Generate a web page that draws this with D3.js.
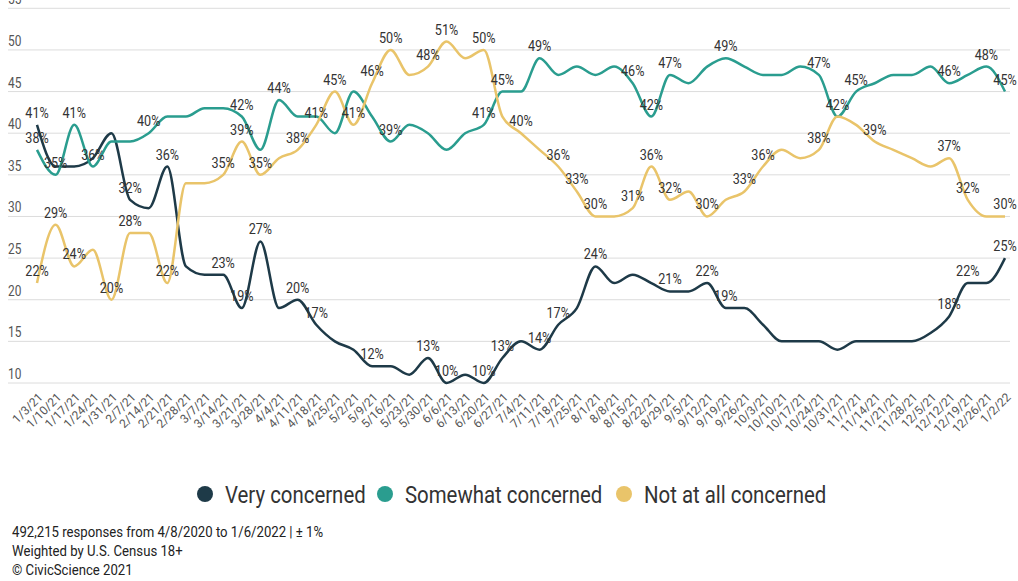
<!DOCTYPE html>
<html>
<head>
<meta charset="utf-8">
<script src="https://cdn.jsdelivr.net/npm/d3@7"></script>
<style>
  body { margin: 0; background: #fff; }
  svg { display: block; font-family: Roboto, "Noto Sans", sans-serif; }
</style>
</head>
<body>
<svg id="chart" width="1018" height="581"></svg>
<script>
var weeks = ["1/3/21","1/10/21","1/17/21","1/24/21","1/31/21","2/7/21","2/14/21","2/21/21","2/28/21",
  "3/7/21","3/14/21","3/21/21","3/28/21","4/4/21","4/11/21","4/18/21","4/25/21","5/2/21","5/9/21",
  "5/16/21","5/23/21","5/30/21","6/6/21","6/13/21","6/20/21","6/27/21","7/4/21","7/11/21","7/18/21",
  "7/25/21","8/1/21","8/8/21","8/15/21","8/22/21","8/29/21","9/5/21","9/12/21","9/19/21","9/26/21",
  "10/3/21","10/10/21","10/17/21","10/24/21","10/31/21","11/7/21","11/14/21","11/21/21","11/28/21",
  "12/5/21","12/12/21","12/19/21","12/26/21","1/2/22"];

var veryConcerned = [41,36,36,37,40,32,31,36,24,23,23,19,27,19,20,17,15,14,12,12,11,13,10,11,10,13,
  15,14,17,19,24,22,23,22,21,21,22,19,19,17,15,15,15,14,15,15,15,15,16,18,22,22,25];
var somewhatConcerned = [38,35,41,36,39,39,40,42,42,43,43,42,38,44,42,42,40,45,42,39,41,40,38,40,41,45,
  45,49,47,48,47,48,46,42,47,46,48,49,48,47,47,48,47,42,45,46,47,47,48,46,47,48,45];
var notConcerned = [22,29,24,26,20,28,28,22,34,34,35,39,35,37,38,41,45,41,46,50,47,48,51,49,50,42,
  40,38,36,33,30,30,31,36,32,33,30,32,33,36,38,37,38,42,41,39,38,37,36,37,32,30,30];

// which weeks carry a value label
var veryLabels = [0,5,7,10,11,12,14,15,18,21,22,24,25,27,28,30,34,36,37,49,50,52];
var somewhatLabels = [0,1,2,3,6,11,13,19,24,25,27,32,33,34,37,42,43,44,49,51,52];
var notLabels = [0,1,2,4,5,7,10,11,12,14,15,16,17,18,19,21,22,24,26,28,29,30,32,33,34,36,38,39,42,45,49,50,52];

var yTicks = [10,15,20,25,30,35,40,45,50,55];

var seriesNames = ["Very concerned","Somewhat concerned","Not at all concerned"];
var seriesColors = ["#1e3a48","#2a9d8f","#e9c46a"];

var svg = d3.select("#chart");

var x = d3.scalePoint().domain(weeks).range([37, 1005]);
var y = d3.scaleLinear().domain([10, 55]).range([383, 8.3]);

// gridlines + y labels
var grid = svg.append("g");
grid.selectAll("line").data(yTicks).join("line")
  .attr("x1", 8).attr("x2", 1010)
  .attr("y1", function(d) { return y(d); }).attr("y2", function(d) { return y(d); })
  .attr("stroke", "#dcdcdc").attr("stroke-width", 1);
grid.selectAll("text").data(yTicks).join("text")
  .attr("transform", function(d) { return "translate(8," + (y(d) - 4) + ") scale(0.85,1)"; })
  .attr("font-size", 14).attr("fill", "#555")
  .text(function(d) { return d; });

// x axis labels
var xAxis = svg.append("g").attr("transform", "translate(0,392)")
  .call(d3.axisBottom(x).tickSize(0).tickPadding(0));
xAxis.select(".domain").remove();
xAxis.selectAll("text")
  .attr("font-size", 12).attr("fill", "#555").attr("font-family", "Roboto, sans-serif")
  .attr("text-anchor", "end").attr("dy", "0.7em").attr("dx", "0")
  .attr("transform", "rotate(-45)");

var series = [
  { name: seriesNames[0], values: veryConcerned, labels: veryLabels, color: seriesColors[0] },
  { name: seriesNames[1], values: somewhatConcerned, labels: somewhatLabels, color: seriesColors[1] },
  { name: seriesNames[2], values: notConcerned, labels: notLabels, color: seriesColors[2] }
];

var line = d3.line()
  .x(function(d, i) { return x(weeks[i]); })
  .y(function(d) { return y(d); })
  .curve(d3.curveMonotoneX);

svg.append("g").selectAll("path").data(series).join("path")
  .attr("d", function(s) { return line(s.values); })
  .attr("fill", "none")
  .attr("stroke", function(s) { return s.color; })
  .attr("stroke-width", 2.5);

// value labels (narrow, like the original condensed face)
series.forEach(function(s) {
  svg.append("g").selectAll("text").data(s.labels).join("text")
    .attr("transform", function(i) {
      return "translate(" + x(weeks[i]) + "," + (y(s.values[i]) - 7) + ") scale(0.9,1)";
    })
    .attr("text-anchor", "middle")
    .attr("font-size", 14).attr("fill", "#333")
    .text(function(i) { return s.values[i] + "%"; });
});

// legend
var legendX = [205, 385, 624];
var legend = svg.append("g").selectAll("g").data(series).join("g")
  .attr("transform", function(s, i) { return "translate(" + legendX[i] + ",494)"; });
legend.append("circle").attr("r", 8).attr("fill", function(s) { return s.color; });
legend.append("text")
  .attr("transform", "translate(20,0) scale(0.85,1)")
  .attr("dy", "0.36em")
  .attr("font-size", 24).attr("fill", "#333")
  .text(function(s) { return s.name; });

// footer
var notes = ["492,215 responses from 4/8/2020 to 1/6/2022 | ± 1%", "Weighted by U.S. Census 18+", "© CivicScience 2021"];
svg.append("g").selectAll("text").data(notes).join("text")
  .attr("transform", function(d, i) { return "translate(12," + (537 + i * 19) + ") scale(0.94,1)"; })
  .attr("font-size", 14).attr("fill", "#222")
  .text(function(d) { return d; });
</script>
</body>
</html>
